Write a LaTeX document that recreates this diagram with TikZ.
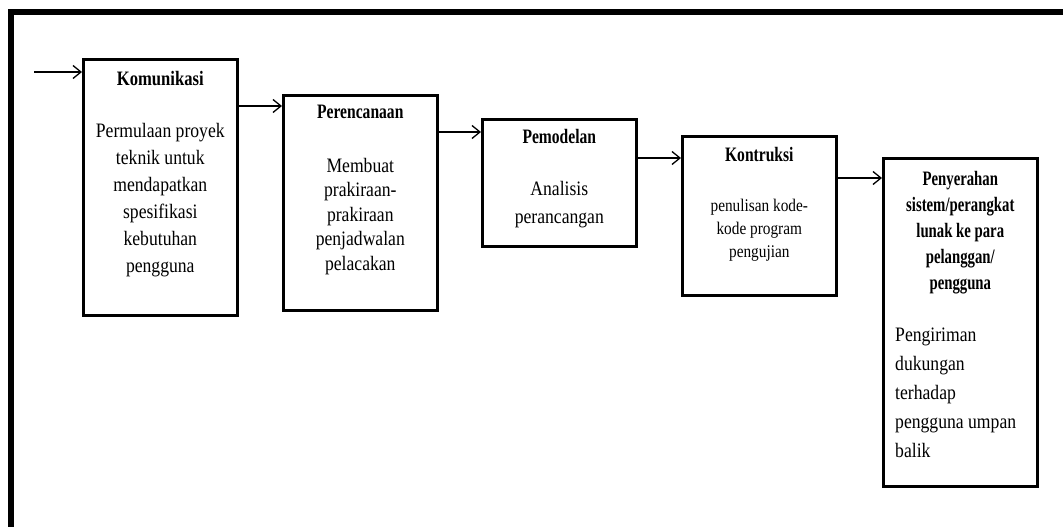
\documentclass[tikz,border=0pt]{standalone}
\usepackage{fontspec}
\setmainfont{Liberation Serif}[FakeStretch=0.86]
\newfontfamily\ttlfont{Liberation Serif}[FakeStretch=0.76]
\newfontfamily\ttlfontw{Liberation Serif}[FakeStretch=0.81]
\newfontfamily\ttlfontc{Liberation Serif}[FakeStretch=0.72]
\usetikzlibrary{arrows.meta,calc}
\begin{document}
\begin{tikzpicture}[x=1pt,y=-1pt,
  box/.style={draw, line width=2.6pt, minimum width=154pt, inner sep=0pt, anchor=north west},
  ttl/.style={font=\ttlfont\bfseries\fontsize{20.5}{26}\selectfont, anchor=base, inner sep=0pt, align=center},
  body/.style={font=\fontsize{20.5}{27}\selectfont, align=center, anchor=north, inner sep=0pt},
  arr/.style={line width=1.3pt, -{Straight Barb[length=8pt,width=13pt]}}]
\useasboundingbox (0,0) rectangle (1063,527);
\clip (0,0) rectangle (1063,527);
% frame
\draw[line width=6pt] (1100,12) -- (10.5,12) -- (10.5,560);
% boxes
\node[box, minimum height=256pt] (b1) at (82,58) {};
\node[box, minimum height=215pt] (b2) at (282,94) {};
\node[box, minimum height=127pt] (b3) at (481,118) {};
\node[box, minimum height=159pt] (b4) at (681,135) {};
\node[box, minimum height=328pt] (b5) at (882,157) {};
% titles
\node[ttl, font=\ttlfontw\bfseries\fontsize{20.5}{26}\selectfont] (t1) at ($(b1.north)+(0,27)$) {Komunikasi};
\node[ttl] (t2) at ($(b2.north)+(0,24)$) {Perencanaan};
\node[ttl] (t3) at ($(b3.north)+(0,25)$) {Pemodelan};
\node[ttl] (t4) at ($(b4.north)+(0,26)$) {Kontruksi};
\node[ttl, anchor=north, font=\ttlfontc\bfseries\fontsize{20.5}{26}\selectfont] (t5) at ($(b5.north)+(0,14)$) {Penyerahan\\sistem/perangkat\\lunak ke para\\pelanggan/\\pengguna};
% bodies
\node[body] (d1) at ($(b1.north)+(0,65)$) {Permulaan proyek\\teknik untuk\\mendapatkan\\spesifikasi\\kebutuhan\\pengguna};
\node[body, font=\fontsize{20.5}{24.5}\selectfont] (d2) at ($(b2.north)+(0,64)$) {Membuat\\prakiraan-\\prakiraan\\penjadwalan\\pelacakan};
\node[body, font=\fontsize{20.5}{28}\selectfont] (d3) at ($(b3.north)+(0,63)$) {Analisis\\perancangan};
\node[body, font=\fontsize{17.8}{23}\selectfont] (d4) at ($(b4.north)+(0,64)$) {penulisan kode-\\kode program\\pengujian};
\node[body, align=left, anchor=north west, font=\fontsize{20.5}{29}\selectfont] (d5) at ($(b5.north west)+(13,171)$) {Pengiriman\\dukungan\\terhadap\\pengguna umpan\\balik};
% arrows
\coordinate (s0) at (34,72);
\draw[arr] (s0) -- (s0 -| b1.west);
\draw[arr] ($(b1.north east)+(0,48)$) -- ($(b2.north west)+(0,12)$);
\draw[arr] ($(b2.north east)+(0,38)$) -- ($(b3.north west)+(0,14)$);
\draw[arr] ($(b3.north east)+(0,40)$) -- ($(b4.north west)+(0,23)$);
\draw[arr] ($(b4.north east)+(0,43)$) -- ($(b5.north west)+(0,21)$);
\end{tikzpicture}
\end{document}
